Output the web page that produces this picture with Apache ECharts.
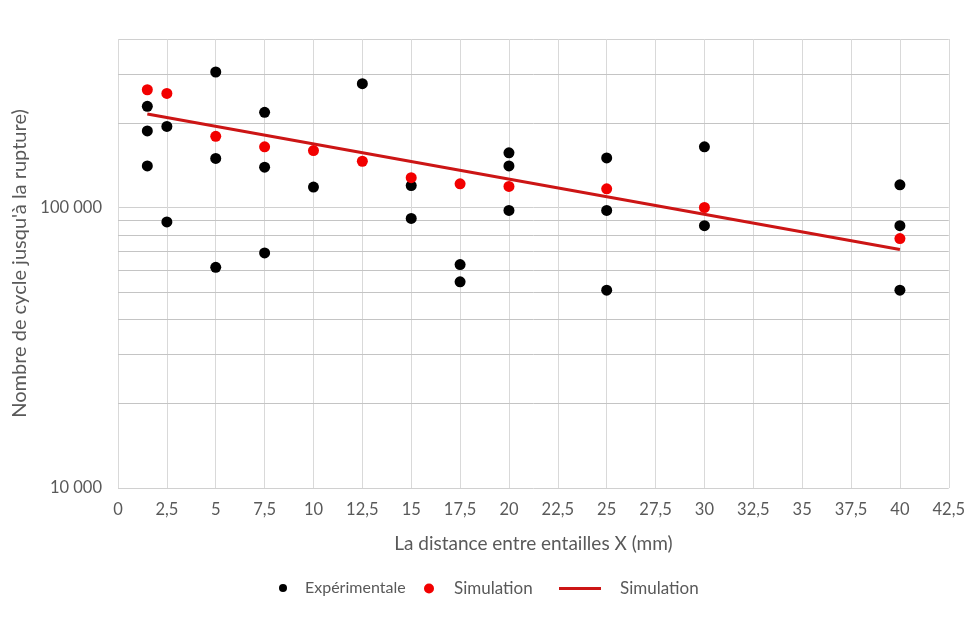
<!DOCTYPE html>
<html>
<head>
<meta charset="utf-8">
<script src="https://cdn.jsdelivr.net/npm/echarts@6/dist/echarts.min.js"></script>
<style>html,body{margin:0;padding:0;background:#fff}#c{width:968px;height:619px}</style>
</head>
<body>
<div id="c"></div>
<script>
// Expérimentale points [x (mm), cycles]
const expX = [1.5, 1.5, 1.5, 2.5, 2.5, 5, 5, 5, 7.5, 7.5, 7.5, 10, 12.5, 15, 15, 17.5, 17.5, 20, 20, 20, 25, 25, 25, 30, 30, 40, 40, 40];
const expY = [230000, 188000, 141000, 195000, 89000, 305000, 150000, 61300, 219000, 139500, 69000, 118500, 277000, 120000, 91600, 62700, 54400, 157000, 141000, 97800, 150600, 97800, 50800, 165000, 86300, 120700, 86300, 50800];
// Simulation points
const simX = [1.5, 2.5, 5, 7.5, 10, 12.5, 15, 17.5, 20, 25, 30, 40];
const simY = [263600, 255700, 179800, 165000, 160000, 146500, 128000, 121700, 119100, 116800, 100200, 77600];
// Simulation trend line endpoints
const trendX = [1.5, 40];
const trendY = [216000, 71000];
// Axis ticks
const xTicks = [0, 2.5, 5, 7.5, 10, 12.5, 15, 17.5, 20, 22.5, 25, 27.5, 30, 32.5, 35, 37.5, 40, 42.5];
const yMinorGrid = [20000, 30000, 40000, 50000, 60000, 70000, 80000, 90000, 200000, 300000];
const yLabels = {10000: '10 000', 100000: '100 000'};

const FONT = 'Lato, "Open Sans", sans-serif';
const GRAY = '#595959';

const zip = (a, b) => a.map((v, i) => [v, b[i]]);

const chart = echarts.init(document.getElementById('c'), null, {renderer: 'canvas'});
chart.setOption({
  animation: false,
  textStyle: {fontFamily: FONT},
  grid: {left: 118, right: 19, top: 39, bottom: 131},
  xAxis: {
    type: 'value', min: 0, max: 42.5, interval: 2.5,
    name: 'La distance entre entailles X (mm)',
    nameLocation: 'middle', nameGap: 46,
    nameTextStyle: {color: GRAY, fontSize: 19, fontFamily: FONT},
    axisLine: {show: false}, axisTick: {show: false},
    axisLabel: {color: GRAY, fontSize: 16.5, margin: 13, fontFamily: FONT,
      formatter: v => String(v).replace('.', ',')},
    splitLine: {show: true, lineStyle: {color: '#d9d9d9', width: 1}}
  },
  yAxis: {
    type: 'log', logBase: 10, min: 10000, max: 400000,
    name: "Nombre de cycle jusqu'à la rupture)",
    nameLocation: 'middle', nameGap: 86, nameRotate: 90,
    nameTextStyle: {color: GRAY, fontSize: 20, fontFamily: FONT},
    axisLine: {show: false}, axisTick: {show: false},
    axisLabel: {color: GRAY, fontSize: 16.5, margin: 16, fontFamily: FONT,
      formatter: v => {
        const r = Math.round(v);
        if (Math.abs(r - 10000) < 1) return yLabels[10000];
        if (Math.abs(r - 100000) < 1) return yLabels[100000];
        return '';
      }},
    splitLine: {show: true, lineStyle: {color: '#d0d0d0', width: 1}}
  },
  legend: [
    {left: 279, top: 580, padding: 0, itemWidth: 34, itemHeight: 8, itemGap: 0,
      textStyle: {color: GRAY, fontSize: 16, fontFamily: FONT},
      data: [{name: 'Expérimentale', icon: 'circle'}]},
    {left: 424, top: 580, padding: 0, itemWidth: 40, itemHeight: 10, itemGap: 0,
      textStyle: {color: GRAY, fontSize: 17, fontFamily: FONT},
      data: [{name: 'Simulation', icon: 'circle'}]},
    {left: 559, top: 580, padding: 0, itemWidth: 42, itemHeight: 3, itemGap: 0,
      textStyle: {color: GRAY, fontSize: 17, fontFamily: FONT, padding: [0, 0, 0, 14]},
      data: [{name: 'Simulation ', icon: 'rect'}],
      formatter: n => n.trim()}
  ],
  series: [
    {
      name: 'grid-minor', type: 'line', data: [], silent: true, z: 0,
      markLine: {
        silent: true, symbol: 'none', animation: false, z: 0,
        label: {show: false},
        lineStyle: {color: '#c4c4c4', width: 1, type: 'solid'},
        emphasis: {disabled: true},
        data: yMinorGrid.map(v => ({yAxis: v}))
      }
    },
    {
      name: 'Expérimentale', type: 'scatter', symbol: 'circle', symbolSize: 11,
      itemStyle: {color: '#000000', opacity: 1}, z: 3,
      data: zip(expX, expY)
    },
    {
      name: 'Simulation ', type: 'line', showSymbol: false, symbol: 'none',
      lineStyle: {color: '#cc1515', width: 3}, itemStyle: {color: '#cc1515'}, z: 4,
      data: zip(trendX, trendY)
    },
    {
      name: 'Simulation', type: 'scatter', symbol: 'circle', symbolSize: 11,
      itemStyle: {color: '#f20000', opacity: 1}, z: 5,
      data: zip(simX, simY)
    }
  ]
});
</script>
</body>
</html>
